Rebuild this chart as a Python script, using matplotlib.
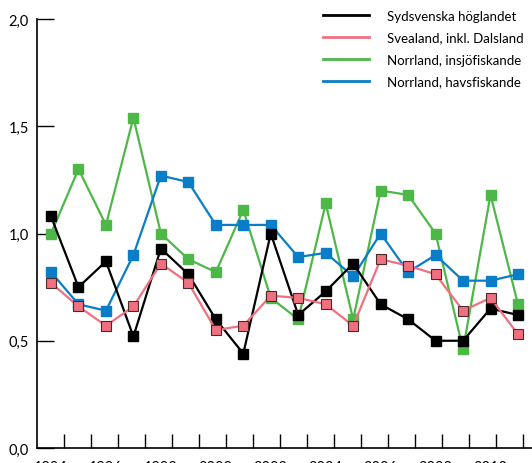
import numpy as np
import matplotlib
matplotlib.use('Agg')
import matplotlib.pyplot as plt

plt.rcParams['font.family'] = ['Lato', 'DejaVu Sans']

years = [str(y) for y in range(1994, 2012)]
year_labels = ['1994', '1996', '1998', '2000', '2002', '2004', '2006', '2008', '2010']

sydsvenska = [1.08, 0.75, 0.87, 0.52, 0.93, 0.81, 0.60, 0.44, 1.00,
              0.62, 0.73, 0.86, 0.67, 0.60, 0.50, 0.50, 0.65, 0.62]
svealand = [0.77, 0.66, 0.57, 0.66, 0.86, 0.77, 0.55, 0.57, 0.71,
            0.70, 0.67, 0.57, 0.88, 0.85, 0.81, 0.64, 0.70, 0.53]
norr_insjo = [1.00, 1.30, 1.04, 1.54, 1.00, 0.88, 0.82, 1.11, 0.70,
              0.60, 1.14, 0.60, 1.20, 1.18, 1.00, 0.46, 1.18, 0.67]
norr_hav = [0.82, 0.67, 0.64, 0.90, 1.27, 1.24, 1.04, 1.04, 1.04,
            0.89, 0.91, 0.80, 1.00, 0.82, 0.90, 0.78, 0.78, 0.81]

fig = plt.figure(figsize=(5.32, 4.64), dpi=100)
ax = fig.add_axes([37 / 532, 15 / 464, 495 / 532, 429 / 464])

x = np.arange(len(years))

# rita i ordning så att rosa hamnar överst
ax.plot(x, norr_insjo, color='#4db848', lw=1.6, marker='s', ms=6.5,
        mec='#4db848', zorder=2)
ax.plot(x, norr_hav, color='#0a7dc8', lw=1.6, marker='s', ms=6.5,
        mec='#0a7dc8', zorder=3)
ax.plot(x, sydsvenska, color='black', lw=1.6, marker='s', ms=6.5,
        mec='black', zorder=4)
ax.plot(x, svealand, color='#f07080', lw=1.6, marker='s', ms=6.5,
        mfc='#f07080', mec='#4a2a2a', mew=0.8, zorder=5)

# legend utan markörer
handles = [plt.Line2D([], [], color=c, lw=2) for c in
           ['black', '#f07080', '#4db848', '#0a7dc8']]
labels = ['Sydsvenska höglandet', 'Svealand, inkl. Dalsland',
          'Norrland, insjöfiskande', 'Norrland, havsfiskande']
ax.legend(handles, labels, loc='upper right', bbox_to_anchor=(1.0, 1.04),
          frameon=False, fontsize=9.5, handlelength=3.5, handletextpad=1.4,
          labelspacing=0.75, borderaxespad=0.2)

ax.set_xlim(-0.51, 17.51)
ax.set_ylim(0, 2.0)
ax.set_yticks([0, 0.5, 1.0, 1.5, 2.0])
ax.set_yticklabels(['0,0', '0,5', '1,0', '1,5', '2,0'], fontsize=10.5)
ax.tick_params(axis='y', direction='in', length=12, width=1, pad=6)

ax.set_xticks(x[::2])
ax.set_xticklabels(year_labels, fontsize=10.5)
ax.tick_params(axis='x', which='major', length=0, pad=8.5)
ax.set_xticks(0.473 + 0.982 * np.arange(18), minor=True)
ax.tick_params(axis='x', which='minor', direction='in', length=10, width=1)

for s in ['top', 'right']:
    ax.spines[s].set_visible(False)
for s in ['left', 'bottom']:
    ax.spines[s].set_linewidth(1.2)

fig.savefig('out.png', dpi=100)
